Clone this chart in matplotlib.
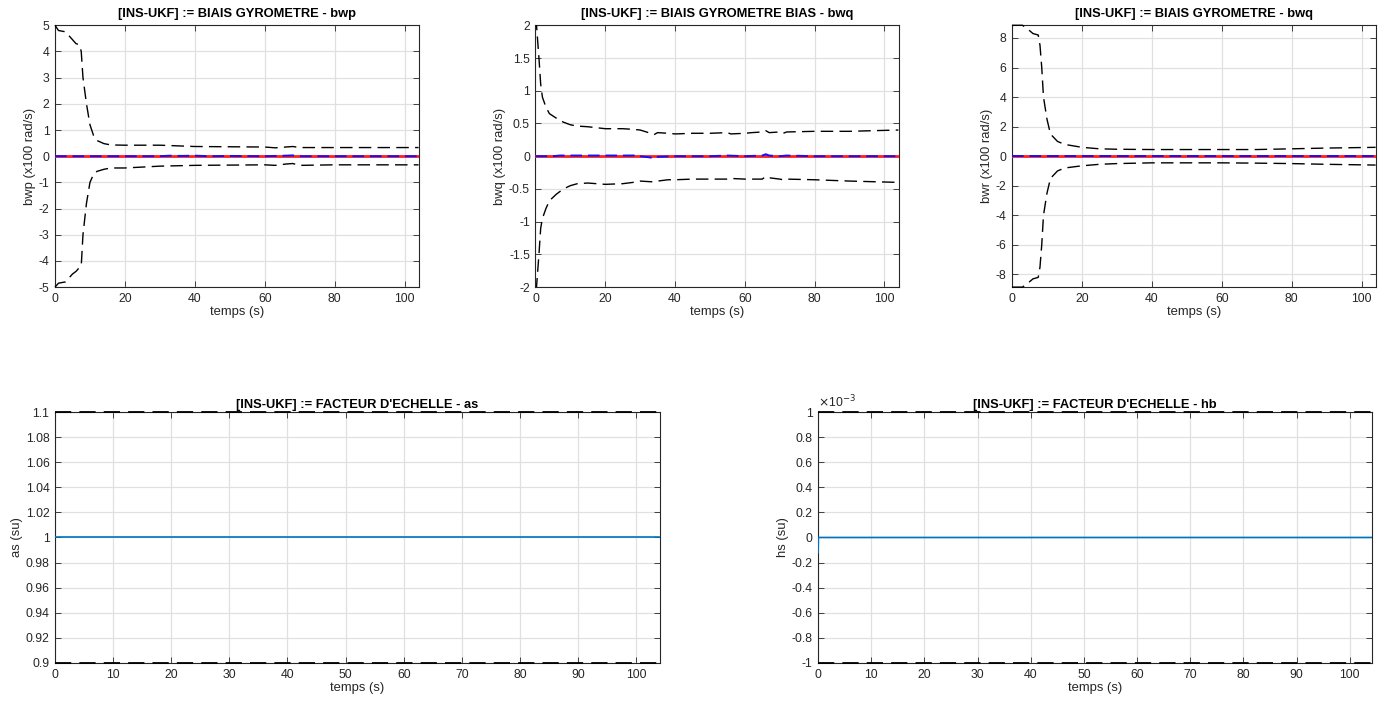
import numpy as np
import matplotlib.pyplot as plt
from matplotlib.ticker import FuncFormatter

plt.rcParams['font.family'] = ['Liberation Sans', 'DejaVu Sans']

# --- bwp : bornes 3-sigma et estimation ---
t_bwp = [0, 1, 3, 5, 6, 7, 7.5, 8, 9, 10, 11, 12, 14, 16, 20, 30, 40, 50, 60, 63, 66, 68, 70, 80, 104]
bwp_sup = [5.0, 4.8, 4.75, 4.45, 4.3, 4.25, 4.0, 3.0, 2.0, 1.2, 0.8, 0.6, 0.48, 0.43, 0.42, 0.42, 0.37,
           0.36, 0.35, 0.32, 0.35, 0.37, 0.33, 0.33, 0.33]
bwp_inf = [-5.0, -4.85, -4.8, -4.5, -4.4, -4.25, -4.2, -3.0, -1.8, -1.0, -0.7, -0.58, -0.5, -0.45, -0.45,
           -0.38, -0.35, -0.34, -0.33, -0.35, -0.3, -0.28, -0.35, -0.33, -0.33]
t_est_p = [0, 10, 20, 30, 33, 36, 40, 44, 50, 60, 66, 68, 70, 80, 104]
bwp_est = [0, 0, 0, 0, 0.02, 0.01, 0.02, 0.0, 0.01, 0.0, 0.02, 0.03, 0.0, 0.0, 0.0]

# --- bwq ---
t_bwq = [0, 0.3, 1, 1.5, 2, 3, 4, 6, 8, 10, 12, 15, 20, 25, 28, 30, 33, 34, 35, 38, 40, 45, 50, 55, 56,
         60, 62, 65, 66, 67, 70, 71, 72, 80, 90, 104]
bwq_sup = [10.0, 2.0, 1.5, 1.1, 0.9, 0.75, 0.65, 0.58, 0.52, 0.48, 0.46, 0.45, 0.42, 0.42, 0.41, 0.40,
           0.35, 0.33, 0.36, 0.35, 0.34, 0.35, 0.35, 0.36, 0.34, 0.35, 0.36, 0.37, 0.39, 0.36, 0.37,
           0.35, 0.37, 0.38, 0.38, 0.40]
bwq_inf = [-10.0, -2.0, -1.5, -1.1, -0.95, -0.8, -0.68, -0.58, -0.5, -0.45, -0.42, -0.41, -0.43, -0.42,
           -0.40, -0.38, -0.39, -0.39, -0.38, -0.36, -0.36, -0.35, -0.35, -0.35, -0.34, -0.35, -0.35,
           -0.35, -0.31, -0.33, -0.35, -0.36, -0.35, -0.36, -0.38, -0.40]
t_est_q = [0, 5, 7, 10, 20, 28, 29, 30, 33, 34, 35, 40, 50, 55, 60, 65, 66, 67, 70, 72, 80, 104]
bwq_est = [0, 0, 0.01, 0.01, 0.01, 0.01, 0.02, 0.0, -0.02, -0.04, -0.01, 0.0, 0.0, 0.01, 0.0, 0.01,
           0.03, 0.01, 0.0, 0.01, 0.0, 0.0]

# --- bwr ---
t_bwr = [0, 3, 5, 6, 7.5, 8, 8.5, 9, 10, 11, 13, 15, 20, 25, 30, 40, 60, 70, 80, 90, 104]
bwr_sup = [8.86, 8.86, 8.5, 8.3, 8.2, 7.5, 6.0, 4.0, 2.5, 1.5, 1.0, 0.8, 0.6, 0.5, 0.47, 0.45, 0.45,
           0.45, 0.5, 0.55, 0.6]
bwr_inf = [-8.86, -8.86, -8.5, -8.3, -8.2, -7.5, -6.0, -4.0, -2.5, -1.5, -1.0, -0.8, -0.65, -0.55, -0.5,
           -0.45, -0.45, -0.47, -0.5, -0.55, -0.6]
t_est_r = [0, 104]
bwr_est = [0, 0]

# --- facteurs d'echelle ---
t_fe = [0, 104]
as_est = [1.0, 1.0]
as_sup = [1.1, 1.1]
as_inf = [0.9, 0.9]
t_hs = [0, 0.05, 1, 104]
hs_est = [-0.12e-3, 0.0, 0.0, 0.0]
hs_sup = [1e-3, 1e-3]
hs_inf = [-1e-3, -1e-3]

BLEU_MATLAB = "#0072BD"
GRIS_TXT = "#262626"
TIRETS = (9, 4.5)


def style_matlab(ax, titre, ylabel, pad_titre):
    ax.set_title(titre, fontsize=9.3, fontweight="bold", color="black", pad=pad_titre)
    ax.set_xlabel("temps (s)", fontsize=9.4, color=GRIS_TXT, labelpad=1)
    ax.set_ylabel(ylabel, fontsize=9.4, color=GRIS_TXT, labelpad=2)
    ax.grid(True, color="#e0e0e0", linewidth=0.9)
    ax.set_axisbelow(True)
    ax.tick_params(direction="in", top=True, right=True, length=4, width=0.6,
                   labelsize=8.8, colors=GRIS_TXT, pad=4)
    for s in ax.spines.values():
        s.set_color("#262626")
        s.set_linewidth(0.8)
        s.set_zorder(2)
    ax.yaxis.set_major_formatter(FuncFormatter(lambda v, p: "%g" % round(v, 6)))
    ax.xaxis.set_major_formatter(FuncFormatter(lambda v, p: "%g" % v))


fig = plt.figure(figsize=(13.89, 7.02), dpi=100)

haut = [
    ([0.0396, 0.591, 0.262, 0.373], "[INS-UKF] := BIAIS GYROMETRE - bwp", "bwp (x100 rad/s)",
     t_bwp, bwp_sup, bwp_inf, t_est_p, bwp_est, (-5, 5), np.arange(-5, 6, 1), False),
    ([0.3855, 0.591, 0.2615, 0.373], "[INS-UKF] := BIAIS GYROMETRE BIAS - bwq", "bwq (x100 rad/s)",
     t_bwq, bwq_sup, bwq_inf, t_est_q, bwq_est, (-2, 2), np.arange(-2, 2.01, 0.5), True),
    ([0.7286, 0.591, 0.262, 0.373], "[INS-UKF] := BIAIS GYROMETRE - bwq", "bwr (x100 rad/s)",
     t_bwr, bwr_sup, bwr_inf, t_est_r, bwr_est, (-8.86, 8.86), np.arange(-8, 9, 2), False),
]

for pos, titre, ylab, t, sup, inf, te, est, ylim, yt, clip in haut:
    ax = fig.add_axes(pos)
    ax.plot(t, sup, "--", color="black", lw=1.0, dashes=TIRETS, zorder=3, clip_on=clip)
    ax.plot(t, inf, "--", color="black", lw=1.0, dashes=TIRETS, zorder=3, clip_on=clip)
    ax.plot(t_fe, [0, 0], "-", color="#ff2020", lw=2.0, zorder=3)
    ax.plot(te, est, "--", color="#1010ff", lw=1.4, dashes=(6, 3), zorder=3)
    ax.set_xlim(0, 104.1)
    ax.set_ylim(*ylim)
    ax.set_yticks(yt)
    ax.set_xticks(np.arange(0, 101, 20))
    style_matlab(ax, titre, ylab, 6)

# facteur d'echelle as
ax = fig.add_axes([0.0396, 0.0556, 0.4356, 0.3575])
ax.plot(t_fe, as_sup, "--", color="black", lw=1.3, dashes=TIRETS, zorder=3, clip_on=False)
ax.plot(t_fe, as_inf, "--", color="black", lw=1.3, dashes=TIRETS, zorder=3, clip_on=False)
ax.plot(t_fe, as_est, color=BLEU_MATLAB, lw=1.2, zorder=3)
ax.set_xlim(0, 104.1)
ax.set_ylim(0.9, 1.1)
ax.set_yticks(np.arange(0.9, 1.1001, 0.02))
ax.set_xticks(np.arange(0, 101, 10))
style_matlab(ax, "[INS-UKF] := FACTEUR D'ECHELLE - as", "as (su)", 3)

# facteur d'echelle hb
ax = fig.add_axes([0.589, 0.0556, 0.3985, 0.3575])
ax.plot(t_fe, hs_sup, "--", color="black", lw=1.3, dashes=TIRETS, zorder=3, clip_on=False)
ax.plot(t_fe, hs_inf, "--", color="black", lw=1.3, dashes=TIRETS, zorder=3, clip_on=False)
ax.plot(t_hs, hs_est, color=BLEU_MATLAB, lw=1.2, zorder=3)
ax.set_xlim(0, 104.1)
ax.set_ylim(-1e-3, 1e-3)
ax.set_yticks(np.arange(-1e-3, 1.0001e-3, 0.2e-3))
ax.set_xticks(np.arange(0, 101, 10))
style_matlab(ax, "[INS-UKF] := FACTEUR D'ECHELLE - hb", "hs (su)", 3)
ax.yaxis.set_major_formatter(FuncFormatter(lambda v, p: "%g" % round(v * 1e3, 6)))
ax.text(0.0, 1.005, r"$\times$10$^{-3}$", transform=ax.transAxes, fontsize=8.8,
        color=GRIS_TXT, va="bottom", ha="left")

fig.savefig("out.png", dpi=100)
